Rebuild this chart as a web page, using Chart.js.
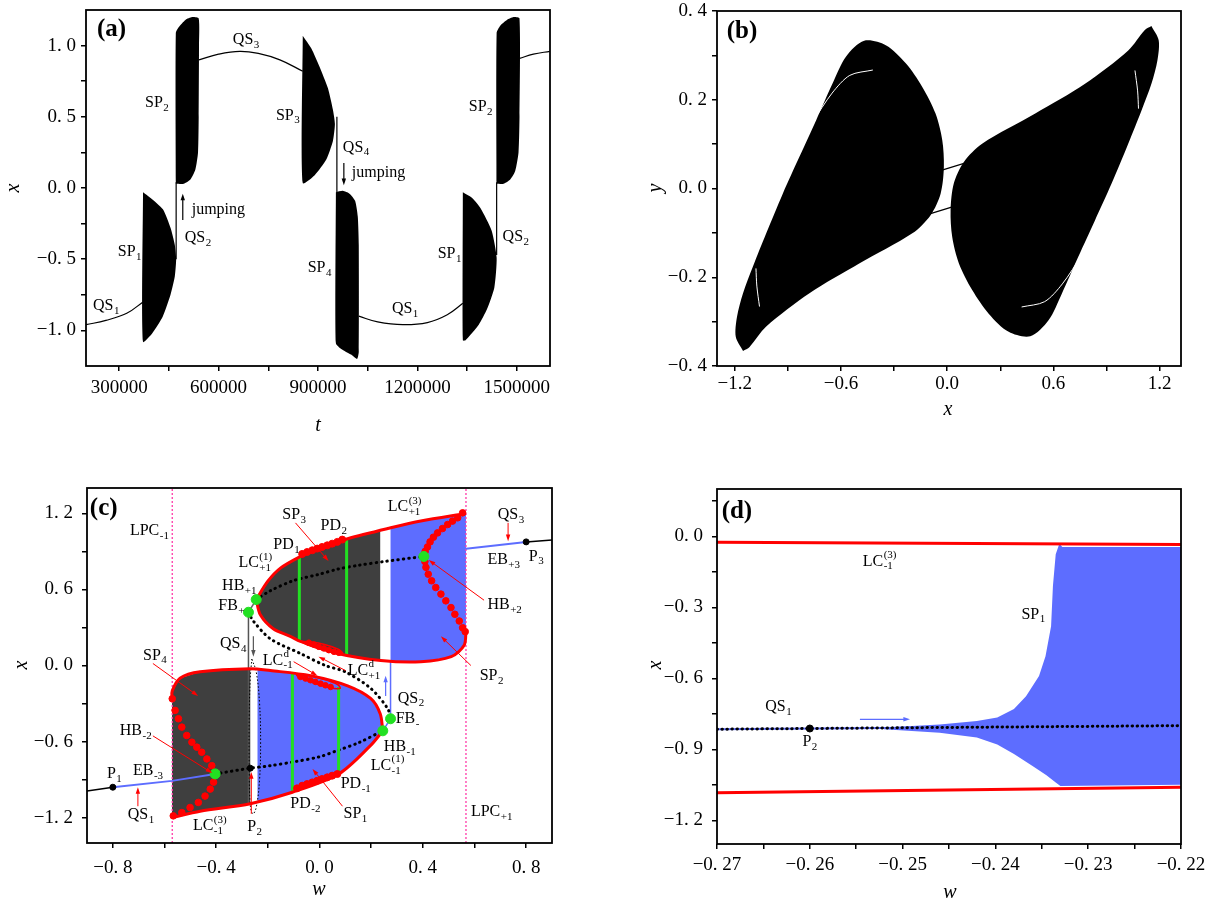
<!DOCTYPE html>
<html>
<head>
<meta charset="utf-8">
<script src="https://cdn.jsdelivr.net/npm/chart.js@4.4.0/dist/chart.umd.min.js"></script>
<style>
  body { margin: 0; background: #fff; width: 1215px; height: 904px; position: relative; overflow: hidden; }
  canvas { position: absolute; }
</style>
</head>
<body>
<canvas id="pa" width="607" height="452" style="left:0;top:0"></canvas>
<canvas id="pb" width="608" height="452" style="left:607px;top:0"></canvas>
<canvas id="pc" width="607" height="452" style="left:0;top:452px"></canvas>
<canvas id="pd" width="608" height="452" style="left:607px;top:452px"></canvas>
<script>
/* =====================================================================
   Four-panel figure: (a) x(t), (b) phase portrait, (c) bifurcation set,
   (d) zoom of the slow passage near P2
   ===================================================================== */

// ---- (a) time series, [t, x] ----
const A_QS1_L = [[200000,-0.96],[260000,-0.93],[323000,-0.88],[372000,-0.80]];
const A_SP1_L = [[372000,-0.03],[395000,-0.07],[432000,-0.15],[455000,-0.28],[468000,-0.4],[472000,-0.5],[468000,-0.62],[455000,-0.75],[432000,-0.9],[400000,-1.02],[372000,-1.08],[372000,-0.03]];
const A_QS2_L = [[472000,-0.5],[472000,0.04]];
const A_SP2_L = [[471000,0.03],[471000,1.09],[480000,1.13],[500000,1.18],[520000,1.2],[540000,1.19],[541000,1.0],[540000,0.5],[538000,0.25],[530000,0.13],[515000,0.06],[495000,0.03],[471000,0.03]];
const A_QS3_L = [[541000,0.9],[600000,0.94],[664000,0.96],[720000,0.945],[785000,0.9],[854000,0.82]];
const A_SP3 = [[854000,1.07],[880000,0.98],[905000,0.85],[930000,0.7],[945000,0.55],[951000,0.45],[945000,0.33],[925000,0.2],[890000,0.09],[854000,0.035],[854000,1.07]];
const A_QS4 = [[957000,0.5],[957000,-0.03]];
const A_SP4 = [[954000,-0.03],[975000,-0.02],[995000,-0.04],[1012000,-0.09],[1020000,-0.2],[1023000,-0.4],[1023000,-1.15],[1018000,-1.2],[1000000,-1.17],[970000,-1.13],[954000,-1.09],[954000,-0.03]];
const A_QS1_R = [[1023000,-0.9],[1080000,-0.94],[1156000,-0.96],[1230000,-0.945],[1290000,-0.89],[1337000,-0.81]];
const A_SP1_R = [[1337000,-0.03],[1365000,-0.07],[1390000,-0.14],[1424000,-0.3],[1439000,-0.49],[1432000,-0.7],[1410000,-0.85],[1385000,-0.96],[1345000,-1.07],[1337000,-1.07],[1337000,-0.03]];
const A_QS2_R = [[1439000,-0.47],[1439000,0.04]];
const A_SP2_R = [[1439000,0.03],[1439000,1.09],[1450000,1.14],[1470000,1.18],[1490000,1.2],[1508000,1.19],[1508000,0.5],[1505000,0.25],[1495000,0.12],[1480000,0.06],[1460000,0.03],[1439000,0.03]];
const A_QS3_R = [[1508000,0.91],[1550000,0.94],[1600000,0.96]];
const A_X_MAJOR = [300000, 600000, 900000, 1200000, 1500000];
const A_X_MINOR = [450000, 750000, 1050000, 1350000];
const A_Y_MAJOR = [-1, -0.5, 0, 0.5, 1];
const A_Y_MINOR = [-0.75, -0.25, 0.25, 0.75];

// ---- (b) phase portrait, [x, y] ----
const B_LEFT = [[-1.153,-0.366],[-1.194,-0.334],[-1.187,-0.289],[-1.153,-0.236],[-1.097,-0.176],[-1.022,-0.101],[-0.928,-0.011],[-0.834,0.072],[-0.74,0.154],[-0.647,0.237],[-0.572,0.297],[-0.469,0.333],[-0.347,0.323],[-0.234,0.282],[-0.141,0.229],[-0.066,0.169],[-0.028,0.109],[-0.019,0.049],[-0.037,-0.011],[-0.094,-0.06],[-0.197,-0.101],[-0.497,-0.169],[-0.778,-0.236],[-1.022,-0.311],[-1.116,-0.357],[-1.153,-0.366]];
const B_RIGHT = [[1.153,0.366],[1.194,0.334],[1.187,0.289],[1.153,0.236],[1.097,0.176],[1.022,0.101],[0.928,0.011],[0.834,-0.072],[0.74,-0.154],[0.647,-0.237],[0.572,-0.297],[0.469,-0.333],[0.347,-0.323],[0.234,-0.282],[0.141,-0.229],[0.066,-0.169],[0.028,-0.109],[0.019,-0.049],[0.037,0.011],[0.094,0.06],[0.197,0.101],[0.497,0.169],[0.778,0.236],[1.022,0.311],[1.116,0.357],[1.153,0.366]];
const B_LINK_1 = [[-0.066,0.037],[0.122,0.06]];
const B_LINK_2 = [[-0.122,-0.06],[0.066,-0.037]];
const B_GAP_1 = [[-0.76,0.15],[-0.65,0.215],[-0.55,0.255],[-0.42,0.267]];
const B_GAP_2 = [[-1.08,-0.18],[-1.075,-0.22],[-1.06,-0.266]];
const B_GAP_3 = [[0.76,-0.15],[0.65,-0.215],[0.55,-0.255],[0.42,-0.267]];
const B_GAP_4 = [[1.08,0.18],[1.075,0.22],[1.06,0.266]];
const B_X_MAJOR = [-1.2, -0.6, 0, 0.6, 1.2];
const B_X_MINOR = [-0.9, -0.3, 0.3, 0.9];
const B_Y_MAJOR = [-0.4, -0.2, 0, 0.2, 0.4];
const B_Y_MINOR = [-0.3, -0.1, 0.1, 0.3];

// ---- (c) bifurcation diagram, [w, x] ----
const C_GREY_UP = [[-0.245,0.52],[-0.2,0.665],[-0.15,0.77],[-0.074,0.86],[0,0.93],[0.109,1.0],[0.235,1.065],[0.235,0.04],[0.07,0.095],[-0.074,0.19],[-0.113,0.23],[-0.179,0.29],[-0.229,0.40],[-0.245,0.52]];
const C_BLUE_UP = [[0.275,1.085],[0.392,1.14],[0.567,1.2],[0.567,0.27],[0.56,0.16],[0.51,0.07],[0.392,0.03],[0.275,0.035],[0.275,1.085]];
const C_GREY_LO = [[-0.571,-0.26],[-0.57,-0.2],[-0.54,-0.10],[-0.462,-0.05],[-0.268,-0.025],[-0.268,-1.09],[-0.462,-1.15],[-0.571,-1.2],[-0.571,-0.26]];
const C_BLUE_LO = [[-0.24,-0.03],[-0.19,-0.04],[-0.035,-0.08],[0.109,-0.16],[0.198,-0.26],[0.235,-0.38],[0.245,-0.515],[0.198,-0.63],[0.074,-0.856],[-0.105,-1.0],[-0.24,-1.08],[-0.24,-0.03]];
const C_UP_TOP = [[-0.245,0.52],[-0.2,0.665],[-0.15,0.77],[-0.074,0.86],[0,0.93],[0.109,1.0],[0.264,1.08],[0.392,1.14],[0.567,1.2]];
const C_UP_BOT = [[-0.245,0.52],[-0.229,0.40],[-0.179,0.29],[-0.113,0.23],[-0.074,0.19],[0.07,0.095],[0.237,0.04],[0.392,0.03],[0.51,0.07],[0.56,0.16],[0.567,0.27]];
const C_LO_TOP = [[-0.571,-0.26],[-0.57,-0.2],[-0.54,-0.10],[-0.462,-0.05],[-0.268,-0.025],[-0.19,-0.04],[-0.035,-0.08],[0.109,-0.16],[0.198,-0.26],[0.235,-0.38],[0.245,-0.515]];
const C_LO_BOT = [[-0.571,-1.2],[-0.462,-1.15],[-0.268,-1.09],[-0.105,-1.0],[0.074,-0.856],[0.198,-0.63],[0.245,-0.515]];
const C_UP_UNST = [[0.554,1.204],[0.535,1.165],[0.515,1.139],[0.496,1.112],[0.476,1.08],[0.457,1.046],[0.441,1.012],[0.428,0.975],[0.418,0.935],[0.409,0.90],[0.405,0.866],[0.408,0.82],[0.412,0.774],[0.421,0.72],[0.434,0.668],[0.45,0.615],[0.47,0.563],[0.489,0.51],[0.509,0.457],[0.524,0.404],[0.541,0.351],[0.554,0.298],[0.564,0.267]];
const C_LO_UNST = [[-0.570,-0.262],[-0.559,-0.354],[-0.546,-0.42],[-0.533,-0.486],[-0.514,-0.552],[-0.494,-0.605],[-0.475,-0.644],[-0.456,-0.684],[-0.436,-0.737],[-0.417,-0.79],[-0.404,-0.856],[-0.41,-0.92],[-0.423,-0.975],[-0.443,-1.03],[-0.469,-1.08],[-0.501,-1.12],[-0.533,-1.16],[-0.566,-1.186]];
const C_SP3_DOTS = [[-0.067,0.88],[-0.048,0.895],[-0.028,0.909],[-0.009,0.922],[0.01,0.935],[0.03,0.948],[0.049,0.961],[0.069,0.975],[0.088,0.993]];
const C_SP1_DOTS = [[-0.087,-0.969],[-0.067,-0.948],[-0.048,-0.935],[-0.028,-0.922],[-0.009,-0.909],[0.01,-0.895],[0.03,-0.882],[0.049,-0.869],[0.069,-0.856]];
const C_LCD_UP = [[-0.074,0.19],[-0.03,0.185],[0.02,0.165],[0.07,0.13],[0.09,0.1],[0.06,0.1],[0.0,0.13],[-0.05,0.165],[-0.074,0.19]];
const C_LCD_UP_DOTS = [[-0.041,0.18],[-0.022,0.166],[-0.003,0.148],[0.017,0.135],[0.036,0.121],[0.056,0.108],[0.075,0.1]];
const C_LCD_LO = [[-0.09,-0.075],[-0.04,-0.08],[0.02,-0.11],[0.07,-0.15],[0.08,-0.18],[0.04,-0.175],[-0.02,-0.14],[-0.07,-0.1],[-0.09,-0.075]];
const C_LCD_LO_DOTS = [[-0.074,-0.09],[-0.054,-0.103],[-0.035,-0.116],[-0.016,-0.129],[0.004,-0.143],[0.023,-0.156],[0.043,-0.169]];
const C_LOOP_P2 = [[-0.262,0.05],[-0.245,-0.05],[-0.232,-0.3],[-0.228,-0.6],[-0.232,-0.9],[-0.245,-1.12],[-0.258,-1.17],[-0.268,-1.1],[-0.272,-0.8],[-0.272,-0.4],[-0.268,-0.1],[-0.262,0.05]];
const C_EQ_UP = [[-0.245,0.52],[-0.19,0.59],[-0.1,0.67],[0,0.72],[0.07,0.76],[0.15,0.79],[0.25,0.82],[0.404,0.86]];
const C_EQ_LO = [[-0.404,-0.855],[-0.268,-0.81],[-0.19,-0.79],[-0.1,-0.76],[0,-0.72],[0.07,-0.67],[0.15,-0.61],[0.245,-0.515]];
const C_EQ_MID = [[-0.275,0.42],[-0.256,0.35],[-0.19,0.21],[-0.074,0.095],[0.023,0.0],[0.1,-0.05],[0.198,-0.18],[0.264,-0.34],[0.275,-0.42]];
const C_EB_M3 = [[-0.8,-0.96],[-0.571,-0.91],[-0.404,-0.855]];
const C_QS_LEFT = [[-0.9,-0.99],[-0.8,-0.96]];
const C_EB_P3 = [[0.567,0.92],[0.8,0.975]];
const C_QS_RIGHT = [[0.8,0.975],[0.9,0.99]];
const C_FB_UP = [[-0.275,0.42],[-0.245,0.52]];
const C_FB_LO = [[0.275,-0.42],[0.245,-0.515]];
const C_QS4 = [[-0.275,0.42],[-0.275,-1.09]];
const C_QS2 = [[0.275,-0.42],[0.275,0.035]];
const C_PD_1 = [[-0.078,0.19],[-0.078,0.86]];
const C_PD_2 = [[0.105,0.085],[0.105,1.0]];
const C_PD_M2 = [[-0.105,-0.06],[-0.105,-1.0]];
const C_PD_M1 = [[0.074,-0.17],[0.074,-0.856]];
const C_LPC_M1 = [[-0.57,-1.4],[-0.57,1.4]];
const C_LPC_P1 = [[0.567,-1.4],[0.567,1.4]];
const C_BIF = [[-0.275,0.42],[-0.245,0.52],[0.404,0.86],[-0.404,-0.855],[0.275,-0.42],[0.245,-0.515]];
const C_EQ_PTS = [[-0.8,-0.96],[-0.268,-0.81],[0.8,0.975]];
const C_X_MAJOR = [-0.8, -0.4, 0, 0.4, 0.8];
const C_X_MINOR = [-0.6, -0.2, 0.2, 0.6];
const C_Y_MAJOR = [-1.2, -0.6, 0, 0.6, 1.2];
const C_Y_MINOR = [-0.9, -0.3, 0.3, 0.9];

// ---- (d) zoom near P2, [w, x] ----
const D_TOP = [[-0.27,-0.025],[-0.22,-0.034]];
const D_BOT = [[-0.27,-1.083],[-0.22,-1.06]];
const D_QS1 = [[-0.27,-0.815],[-0.22,-0.80]];
const D_P2 = [[-0.26,-0.812]];
const D_SP1 = [[-0.252,-0.808],[-0.246,-0.795],[-0.242,-0.78],[-0.2398,-0.765],[-0.238,-0.73],[-0.2367,-0.676],[-0.2353,-0.59],[-0.2346,-0.507],[-0.234,-0.38],[-0.2338,-0.21],[-0.2335,-0.076],[-0.2331,-0.03],[-0.2328,-0.045],[-0.22,-0.045],
               [-0.22,-1.05],[-0.233,-1.055],[-0.2335,-1.04],[-0.2345,-1.01],[-0.236,-0.97],[-0.238,-0.92],[-0.2398,-0.88],[-0.242,-0.85],[-0.246,-0.83],[-0.252,-0.815],[-0.252,-0.808]];
const D_X_MAJOR = [-0.27, -0.26, -0.25, -0.24, -0.23, -0.22];
const D_X_MINOR = [-0.265, -0.255, -0.245, -0.235, -0.225];
const D_Y_MAJOR = [-1.2, -0.9, -0.6, -0.3, 0];
const D_Y_MINOR = [-1.05, -0.75, -0.45, -0.15, 0.15];

const GREY = '#3f3f3f', BLUE = '#5d6dff', RED = '#ff0000', GREEN = '#22e022', PINK = '#ff3aa8';
const SERIF = '"Liberation Serif", "Times New Roman", serif';

// ---------------------------------------------------------------------
const P = a => a.map(([x, y]) => ({ x, y }));

function line(pts, color, width, extra) {
  return Object.assign({ data: P(pts), showLine: true, borderColor: color, borderWidth: width,
    pointRadius: 0, fill: false, tension: 0 }, extra || {});
}
function area(pts, color, tension) {
  return { data: P(pts), showLine: true, borderColor: 'rgba(0,0,0,0)', borderWidth: 1,
    backgroundColor: color, fill: 'shape', pointRadius: 0, tension: tension || 0 };
}
function dotted(pts, color, width, gap, tension) {
  return line(pts, color, width, { borderDash: [0.5, gap], borderCapStyle: 'round', tension: tension || 0.3 });
}
function marks(pts, color, r) {
  return { data: P(pts), showLine: false, pointRadius: r, pointBackgroundColor: color,
    pointBorderColor: color, pointBorderWidth: 1 };
}

// tick label styles of the original: "0. 5", "−1.2"
const spaced = d => v => (v < 0 ? '\u2212' : '') + Math.abs(v).toFixed(d).replace('.', '. ');
const plain = d => v => (v < 0 ? '\u2212' : '') + Math.abs(v).toFixed(d);

function axis(a, dir, size, pad) {
  return {
    type: 'linear', min: a.min, max: a.max,
    afterBuildTicks: s => { s.ticks = a.major.concat(a.minor).sort((p, q) => p - q).map(v => ({ value: v })); },
    afterFit: s => {
      if (dir === 'x') s.height = size; else s.width = size;
      s.paddingLeft = s.paddingRight = s.paddingTop = s.paddingBottom = 0;
    },
    ticks: {
      autoSkip: false, maxRotation: 0, minRotation: 0, color: '#000', padding: pad,
      font: { family: SERIF, size: 19 },
      callback: v => a.major.some(m => Math.abs(m - v) < 1e-9) ? a.fmt(v) : ''
    },
    grid: { drawOnChartArea: false, tickLength: 5, color: '#000', lineWidth: 1.5 },
    border: { display: false }
  };
}

// annotations (labels, arrows, axis titles) kept per canvas
const NOTES = {};

function drawArrow(ctx, x0, y0, x1, y1, color, lw, head) {
  const ang = Math.atan2(y1 - y0, x1 - x0);
  ctx.strokeStyle = color; ctx.fillStyle = color; ctx.lineWidth = lw;
  ctx.beginPath();
  ctx.moveTo(x0, y0);
  ctx.lineTo(x1 - Math.cos(ang) * head * 0.8, y1 - Math.sin(ang) * head * 0.8);
  ctx.stroke();
  ctx.beginPath();
  ctx.moveTo(x1, y1);
  ctx.lineTo(x1 - head * Math.cos(ang - 0.32), y1 - head * Math.sin(ang - 0.32));
  ctx.lineTo(x1 - head * Math.cos(ang + 0.32), y1 - head * Math.sin(ang + 0.32));
  ctx.closePath();
  ctx.fill();
}

function drawLabel(ctx, px, py, l) {
  const fs = l.size || 16;
  ctx.fillStyle = '#000';
  ctx.textBaseline = 'middle';
  ctx.textAlign = 'left';
  ctx.font = (l.bold ? 'bold ' : '') + fs + 'px ' + SERIF;
  ctx.fillText(l.text, px, py);
  const cx = px + ctx.measureText(l.text).width + 0.5;
  ctx.font = Math.round(fs * 0.68) + 'px ' + SERIF;
  if (l.sub) ctx.fillText(l.sub, cx, py + fs * 0.32);
  if (l.sup) ctx.fillText(l.sup, cx, py - fs * 0.38);
}

const notesPlugin = {
  id: 'notes',
  afterDatasetsDraw(chart) {
    const n = NOTES[chart.canvas.id];
    if (!n) return;
    const { ctx, chartArea: ca } = chart;
    const sx = chart.scales.x, sy = chart.scales.y;
    ctx.save();
    ctx.strokeStyle = '#000';
    ctx.lineWidth = 1.8;
    ctx.strokeRect(ca.left, ca.top, ca.right - ca.left, ca.bottom - ca.top);
    (n.arrows || []).forEach(a => drawArrow(ctx,
      sx.getPixelForValue(a.from[0]), sy.getPixelForValue(a.from[1]),
      sx.getPixelForValue(a.to[0]), sy.getPixelForValue(a.to[1]),
      a.color || '#000', a.width || 1, a.head || 7));
    (n.labels || []).forEach(l => drawLabel(ctx, sx.getPixelForValue(l.at[0]), sy.getPixelForValue(l.at[1]), l));
    (n.titles || []).forEach(t => {
      ctx.save();
      ctx.translate(t.px[0], t.px[1]);
      if (t.rot) ctx.rotate(-Math.PI / 2);
      ctx.font = 'italic 20px ' + SERIF;
      ctx.fillStyle = '#000';
      ctx.textAlign = 'center';
      ctx.textBaseline = 'middle';
      ctx.fillText(t.text, 0, 0);
      ctx.restore();
    });
    ctx.restore();
  }
};
Chart.register(notesPlugin);

function makeChart(id, datasets, cfg) {
  // first listed = bottom layer
  datasets.forEach((d, i) => { d.order = -i; });
  return new Chart(document.getElementById(id), {
    type: 'scatter',
    data: { datasets },
    options: {
      animation: false, responsive: false, events: [],
      layout: { padding: { top: cfg.top, right: cfg.right, left: 0, bottom: 0 } },
      plugins: { legend: { display: false }, tooltip: { enabled: false } },
      scales: { x: axis(cfg.x, 'x', cfg.xh, cfg.xpad), y: axis(cfg.y, 'y', cfg.yw, cfg.ypad) }
    }
  });
}

// ---------------------------------------------------------------------
// (a)
NOTES.pa = {
  labels: [
    { at: [233000, 1.11], text: '(a)', bold: true, size: 25 },
    { at: [643000, 1.04], text: 'QS', sub: '3' },
    { at: [378000, 0.6], text: 'SP', sub: '2' },
    { at: [773000, 0.51], text: 'SP', sub: '3' },
    { at: [1355000, 0.57], text: 'SP', sub: '2' },
    { at: [975000, 0.285], text: 'QS', sub: '4' },
    { at: [1002000, 0.105], text: 'jumping' },
    { at: [519000, -0.155], text: 'jumping' },
    { at: [498000, -0.35], text: 'QS', sub: '2' },
    { at: [296000, -0.45], text: 'SP', sub: '1' },
    { at: [221000, -0.83], text: 'QS', sub: '1' },
    { at: [869000, -0.56], text: 'SP', sub: '4' },
    { at: [1123000, -0.85], text: 'QS', sub: '1' },
    { at: [1261000, -0.46], text: 'SP', sub: '1' },
    { at: [1457000, -0.345], text: 'QS', sub: '2' }
  ],
  arrows: [
    { from: [492000, -0.225], to: [492000, -0.04], width: 1.2 },
    { from: [978000, 0.176], to: [978000, 0.02], width: 1.2 }
  ],
  titles: [ { px: [318, 426], text: 't' }, { px: [14, 188], text: 'x', rot: true } ]
};
makeChart('pa', [
  area(A_SP1_L, '#000', 0.2), area(A_SP2_L, '#000', 0.2), area(A_SP3, '#000', 0.2), area(A_SP4, '#000', 0.2),
  area(A_SP1_R, '#000', 0.2), area(A_SP2_R, '#000', 0.2),
  line(A_QS1_L, '#000', 1.2, { tension: 0.4 }), line(A_QS2_L, '#000', 1.2), line(A_QS3_L, '#000', 1.2, { tension: 0.4 }),
  line(A_QS4, '#000', 1.2), line(A_QS1_R, '#000', 1.2, { tension: 0.4 }), line(A_QS2_R, '#000', 1.2),
  line(A_QS3_R, '#000', 1.2, { tension: 0.4 })
], {
  top: 10, right: 57, xh: 86, yw: 86, xpad: 6, ypad: 5,
  x: { min: 200000, max: 1600000, major: A_X_MAJOR, minor: A_X_MINOR, fmt: v => String(v) },
  y: { min: -1.25, max: 1.25, major: A_Y_MAJOR, minor: A_Y_MINOR, fmt: spaced(1) }
});

// (b)
NOTES.pb = {
  labels: [ { at: [-1.245, 0.353], text: '(b)', bold: true, size: 25 } ],
  titles: [ { px: [341, 410], text: 'x' }, { px: [49, 188], text: 'y', rot: true } ]
};
makeChart('pb', [
  area(B_LEFT, '#000', 0.3), area(B_RIGHT, '#000', 0.3),
  line(B_LINK_1, '#000', 1.2), line(B_LINK_2, '#000', 1.2),
  line(B_GAP_1, '#fff', 1, { tension: 0.3 }), line(B_GAP_2, '#fff', 1, { tension: 0.3 }),
  line(B_GAP_3, '#fff', 1, { tension: 0.3 }), line(B_GAP_4, '#fff', 1, { tension: 0.3 })
], {
  top: 11, right: 34, xh: 86, yw: 110, xpad: 2, ypad: 5,
  x: { min: -1.3, max: 1.32, major: B_X_MAJOR, minor: B_X_MINOR, fmt: plain(1) },
  y: { min: -0.4, max: 0.4, major: B_Y_MAJOR, minor: B_Y_MINOR, fmt: spaced(1) }
});

// (c)
NOTES.pc = {
  labels: [
    { at: [-0.889, 1.24], text: '(c)', bold: true, size: 25 },
    { at: [-0.734, 1.06], text: 'LPC', sub: '-1' },
    { at: [-0.144, 1.19], text: 'SP', sub: '3' },
    { at: [-0.179, 0.95], text: 'PD', sub: '1' },
    { at: [0.004, 1.10], text: 'PD', sub: '2' },
    { at: [0.264, 1.25], text: 'LC', sub: '+1', sup: '(3)' },
    { at: [0.69, 1.19], text: 'QS', sub: '3' },
    { at: [0.65, 0.83], text: 'EB', sub: '+3' },
    { at: [0.81, 0.86], text: 'P', sub: '3' },
    { at: [0.65, 0.475], text: 'HB', sub: '+2' },
    { at: [0.62, -0.08], text: 'SP', sub: '2' },
    { at: [-0.314, 0.81], text: 'LC', sub: '+1', sup: '(1)' },
    { at: [-0.377, 0.63], text: 'HB', sub: '+1' },
    { at: [-0.392, 0.47], text: 'FB', sub: '+' },
    { at: [-0.385, 0.17], text: 'QS', sub: '4' },
    { at: [-0.22, 0.04], text: 'LC', sub: '-1', sup: 'd' },
    { at: [0.109, -0.04], text: 'LC', sub: '+1', sup: 'd' },
    { at: [-0.683, 0.08], text: 'SP', sub: '4' },
    { at: [-0.773, -0.515], text: 'HB', sub: '-2' },
    { at: [-0.823, -0.856], text: 'P', sub: '1' },
    { at: [-0.722, -0.83], text: 'EB', sub: '-3' },
    { at: [-0.742, -1.18], text: 'QS', sub: '1' },
    { at: [-0.49, -1.265], text: 'LC', sub: '-1', sup: '(3)' },
    { at: [-0.28, -1.27], text: 'P', sub: '2' },
    { at: [-0.113, -1.09], text: 'PD', sub: '-2' },
    { at: [0.093, -1.17], text: 'SP', sub: '1' },
    { at: [0.082, -0.935], text: 'PD', sub: '-1' },
    { at: [0.198, -0.79], text: 'LC', sub: '-1', sup: '(1)' },
    { at: [0.249, -0.64], text: 'HB', sub: '-1' },
    { at: [0.295, -0.42], text: 'FB', sub: '-' },
    { at: [0.303, -0.26], text: 'QS', sub: '2' },
    { at: [0.586, -1.157], text: 'LPC', sub: '+1' }
  ],
  arrows: [
    { from: [-0.093, 1.125], to: [0.035, 0.824], color: RED },
    { from: [0.73, 1.125], to: [0.73, 0.98], color: RED },
    { from: [0.637, 0.515], to: [0.423, 0.832], color: RED },
    { from: [0.586, 0.0], to: [0.47, 0.23], color: RED },
    { from: [0.101, -0.04], to: [-0.004, 0.07], color: RED },
    { from: [-0.1, 0.03], to: [-0.008, -0.08], color: RED },
    { from: [-0.645, 0.016], to: [-0.47, -0.24], color: RED },
    { from: [-0.645, -0.555], to: [-0.415, -0.848], color: RED },
    { from: [-0.703, -1.11], to: [-0.703, -0.96], color: RED },
    { from: [-0.264, -1.17], to: [-0.264, -0.84], color: RED },
    { from: [0.089, -1.11], to: [-0.027, -0.816], color: RED },
    { from: [-0.256, 0.23], to: [-0.256, 0.07], color: '#555', width: 1.2 },
    { from: [0.256, -0.24], to: [0.256, -0.08], color: BLUE, width: 1.2 }
  ],
  titles: [ { px: [319, 438], text: 'w' }, { px: [22, 213], text: 'x', rot: true } ]
};
makeChart('pc', [
  area(C_GREY_UP, GREY), area(C_GREY_LO, GREY), area(C_BLUE_UP, BLUE), area(C_BLUE_LO, BLUE),
  line(C_LPC_M1, PINK, 1.3, { borderDash: [2, 2] }), line(C_LPC_P1, PINK, 1.3, { borderDash: [2, 2] }),
  line(C_QS4, '#555', 1.5), line(C_QS2, BLUE, 1.5),
  line(C_LOOP_P2, '#000', 1, { borderDash: [1.5, 2], tension: 0.4 }),
  line(C_QS_LEFT, '#000', 1.5), line(C_QS_RIGHT, '#000', 1.5),
  line(C_EB_M3, BLUE, 2), line(C_EB_P3, BLUE, 2),
  line(C_FB_UP, '#666', 1.5), line(C_FB_LO, BLUE, 1.5),
  dotted(C_EQ_UP, '#000', 3, 5), dotted(C_EQ_LO, '#000', 3, 5), dotted(C_EQ_MID, '#000', 3, 5),
  line(C_PD_1, GREEN, 3), line(C_PD_2, GREEN, 3), line(C_PD_M2, GREEN, 3), line(C_PD_M1, GREEN, 3),
  line(C_UP_TOP, RED, 3, { tension: 0.3 }), line(C_UP_BOT, RED, 3, { tension: 0.3 }),
  line(C_LO_TOP, RED, 3, { tension: 0.3 }), line(C_LO_BOT, RED, 3, { tension: 0.3 }),
  line(C_LCD_UP, RED, 1.5, { tension: 0.3 }), line(C_LCD_LO, RED, 1.5, { tension: 0.3 }),
  marks(C_UP_UNST, RED, 3.3), marks(C_LO_UNST, RED, 3.3),
  marks(C_SP3_DOTS, RED, 3.5), marks(C_SP1_DOTS, RED, 3.5),
  marks(C_LCD_UP_DOTS, RED, 2.8), marks(C_LCD_LO_DOTS, RED, 2.8),
  marks(C_BIF, GREEN, 5), marks(C_EQ_PTS, '#000', 3)
], {
  top: 36, right: 55, xh: 61, yw: 87, xpad: 9, ypad: 9,
  x: { min: -0.9, max: 0.9, major: C_X_MAJOR, minor: C_X_MINOR, fmt: spaced(1) },
  y: { min: -1.4, max: 1.4, major: C_Y_MAJOR, minor: C_Y_MINOR, fmt: spaced(1) }
});

// (d)
NOTES.pd = {
  labels: [
    { at: [-0.2695, 0.106], text: '(d)', bold: true, size: 25 },
    { at: [-0.2543, -0.106], text: 'LC', sub: '-1', sup: '(3)' },
    { at: [-0.2648, -0.72], text: 'QS', sub: '1' },
    { at: [-0.2608, -0.87], text: 'P', sub: '2' },
    { at: [-0.2372, -0.33], text: 'SP', sub: '1' }
  ],
  arrows: [ { from: [-0.2546, -0.773], to: [-0.2492, -0.773], color: BLUE, width: 1.3 } ],
  titles: [ { px: [343, 441], text: 'w' }, { px: [49, 213], text: 'x', rot: true } ]
};
makeChart('pd', [
  area(D_SP1, BLUE),
  line(D_QS1, BLUE, 2), dotted(D_QS1, '#000', 3, 4.5),
  line(D_TOP, RED, 3), line(D_BOT, RED, 3),
  marks(D_P2, '#000', 3.5)
], {
  top: 37, right: 34, xh: 60, yw: 110, xpad: 5, ypad: 9,
  x: { min: -0.27, max: -0.22, major: D_X_MAJOR, minor: D_X_MINOR, fmt: spaced(2) },
  y: { min: -1.3, max: 0.2, major: D_Y_MAJOR, minor: D_Y_MINOR, fmt: spaced(1) }
});
</script>
</body>
</html>
